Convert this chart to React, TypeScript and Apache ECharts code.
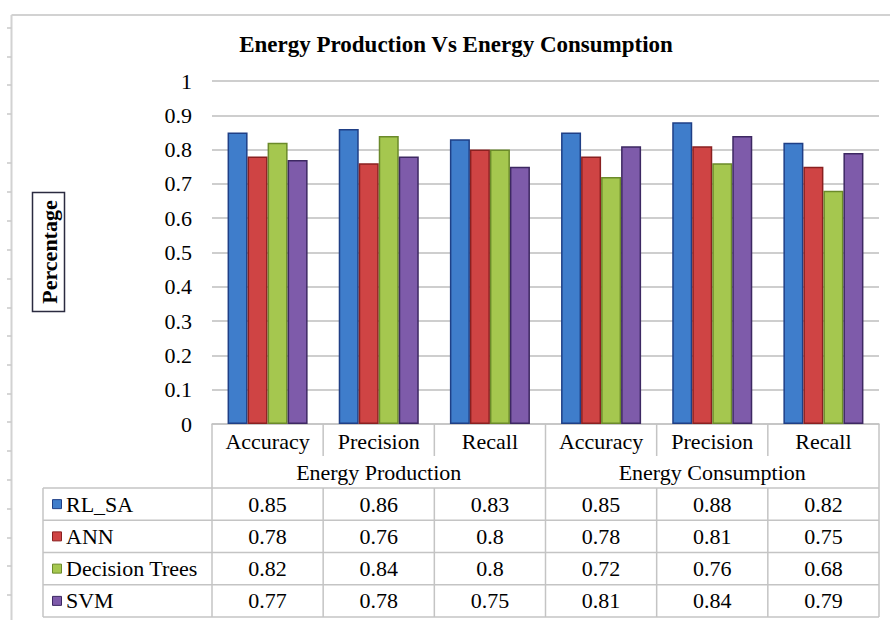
import React, { useEffect, useRef } from "react";
import * as echarts from "echarts";

// ---- data ----
const categories = ["Accuracy", "Precision", "Recall", "Accuracy", "Precision", "Recall"];
const groups = ["Energy Production", "Energy Consumption"];
const seriesNames = ["RL_SA", "ANN", "Decision Trees", "SVM"];
const rlSa = [0.85, 0.86, 0.83, 0.85, 0.88, 0.82];
const ann = [0.78, 0.76, 0.8, 0.78, 0.81, 0.75];
const decisionTrees = [0.82, 0.84, 0.8, 0.72, 0.76, 0.68];
const svm = [0.77, 0.78, 0.75, 0.81, 0.84, 0.79];
const seriesValues = [rlSa, ann, decisionTrees, svm];

// ---- styling ----
const fills = ["#3F7DCB", "#CF4444", "#A5C74F", "#7E5BAA"];
const borders = ["#1F3F86", "#8A2020", "#6B8A2A", "#3D2862"];
const SERIF = "Times New Roman, Liberation Serif, DejaVu Serif, serif";
const LINE = "#C4C4C4";

// ---- layout ----
const GRID_L = 212;
const GRID_R = 879;
const GRID_T = 81;
const GRID_B = 424;
const GROUP_TOP = 456;
const ROWS_TOP = 488;
const ROW_H = 32.25;
const TABLE_L = 43;
const RULER_X = 11.5;
const FRAME_TOP = 15;
const rulerMarks = [28, 57, 85, 114, 163, 192, 221, 250, 279, 308, 336, 365, 394, 422, 451, 480, 509, 538, 566, 595];

function textStyle(text: string, size: number, align: string, bold = false) {
  return {
    text,
    font: `${bold ? "bold " : ""}${size}px ${SERIF}`,
    fill: "#000",
    align,
    verticalAlign: "middle",
    textAlign: align,
    textVerticalAlign: "middle",
  };
}

function buildGraphics() {
  const els: any[] = [];
  const W = (GRID_R - GRID_L) / categories.length;
  const lineStyle = { stroke: LINE, lineWidth: 1.5 };
  const tableBottom = ROWS_TOP + ROW_H * seriesNames.length;

  // page frame with ruler marks
  els.push({ type: "line", shape: { x1: RULER_X, y1: FRAME_TOP, x2: 890, y2: FRAME_TOP }, style: { stroke: "#D2D2D2", lineWidth: 2 } });
  els.push({ type: "line", shape: { x1: RULER_X, y1: FRAME_TOP, x2: RULER_X, y2: 620 }, style: { stroke: "#D2D2D2", lineWidth: 2 } });
  rulerMarks.forEach((y) => {
    els.push({ type: "line", shape: { x1: 7, y1: y, x2: RULER_X, y2: y }, style: { stroke: "#C8C8C8", lineWidth: 1.5 } });
  });

  // title
  els.push({ type: "text", x: 456, y: 44, style: textStyle("Energy Production Vs Energy Consumption", 23, "center", true) });

  // y-axis title in a box
  els.push({ type: "rect", shape: { x: 32.5, y: 192.5, width: 32, height: 119 }, style: { fill: "#fff", stroke: "#2B2B40", lineWidth: 1.5 } });
  els.push({ type: "text", x: 49, y: 252, rotation: Math.PI / 2, style: textStyle("Percentage", 22, "center", true) });

  // data table: horizontal rules
  for (let r = 0; r <= seriesNames.length; r++) {
    const y = ROWS_TOP + r * ROW_H;
    els.push({ type: "line", shape: { x1: TABLE_L, y1: y, x2: GRID_R, y2: y }, style: lineStyle });
  }
  els.push({ type: "line", shape: { x1: TABLE_L, y1: ROWS_TOP, x2: TABLE_L, y2: tableBottom }, style: lineStyle });

  // vertical rules
  const perGroup = categories.length / groups.length;
  for (let i = 0; i <= categories.length; i++) {
    const x = GRID_L + i * W;
    if (i % perGroup === 0) {
      els.push({ type: "line", shape: { x1: x, y1: GRID_B, x2: x, y2: tableBottom }, style: lineStyle });
    } else {
      els.push({ type: "line", shape: { x1: x, y1: GRID_B, x2: x, y2: GROUP_TOP }, style: lineStyle });
      els.push({ type: "line", shape: { x1: x, y1: ROWS_TOP, x2: x, y2: tableBottom }, style: lineStyle });
    }
  }

  // legend keys, names and values
  seriesNames.forEach((name, s) => {
    const cy = ROWS_TOP + (s + 0.5) * ROW_H;
    els.push({ type: "rect", shape: { x: 52.5, y: cy - 4.5, width: 9, height: 9 }, style: { fill: fills[s], stroke: borders[s], lineWidth: 1 } });
    els.push({ type: "text", x: 66, y: cy, style: textStyle(name, 22, "left") });
    seriesValues[s].forEach((v, i) => {
      els.push({ type: "text", x: GRID_L + (i + 0.5) * W, y: cy, style: textStyle(String(v), 22, "center") });
    });
  });

  return els;
}

export default function App() {
  const ref = useRef<HTMLDivElement>(null);

  useEffect(() => {
    document.body.style.margin = "0";
    const chart = echarts.init(ref.current!, null, { renderer: "svg" });
    chart.setOption({
      animation: false,
      backgroundColor: "#fff",
      textStyle: { fontFamily: SERIF },
      grid: { left: GRID_L, right: 890 - GRID_R, top: GRID_T, bottom: 620 - GRID_B, containLabel: false },
      xAxis: [
        {
          type: "category",
          data: categories,
          position: "bottom",
          axisLine: { show: true, lineStyle: { color: LINE, width: 1.5 } },
          axisTick: { show: false },
          axisLabel: { interval: 0, margin: 6, fontFamily: SERIF, fontSize: 22, color: "#000" },
        },
        {
          type: "category",
          data: groups,
          position: "bottom",
          offset: GROUP_TOP - GRID_B,
          axisLine: { show: false },
          axisTick: { show: false },
          axisLabel: { interval: 0, margin: 5, fontFamily: SERIF, fontSize: 22, color: "#000" },
        },
      ],
      yAxis: {
        type: "value",
        min: 0,
        max: 1,
        interval: 0.1,
        axisLine: { show: false },
        axisTick: { show: false },
        splitLine: { lineStyle: { color: "#BEBEBE", width: 1.5 } },
        axisLabel: {
          margin: 20,
          fontFamily: SERIF,
          fontSize: 22,
          color: "#000",
          formatter: (v: number) => String(Math.round(v * 10) / 10),
        },
      },
      series: seriesNames.map((name, s) => ({
        name,
        type: "bar",
        xAxisIndex: 0,
        data: seriesValues[s],
        barGap: "0%",
        barCategoryGap: "28%",
        itemStyle: { color: fills[s], borderColor: borders[s], borderWidth: 1.5 },
      })),
      graphic: buildGraphics(),
    });
    return () => chart.dispose();
  }, []);

  return <div ref={ref} style={{ width: 890, height: 620 }} />;
}
